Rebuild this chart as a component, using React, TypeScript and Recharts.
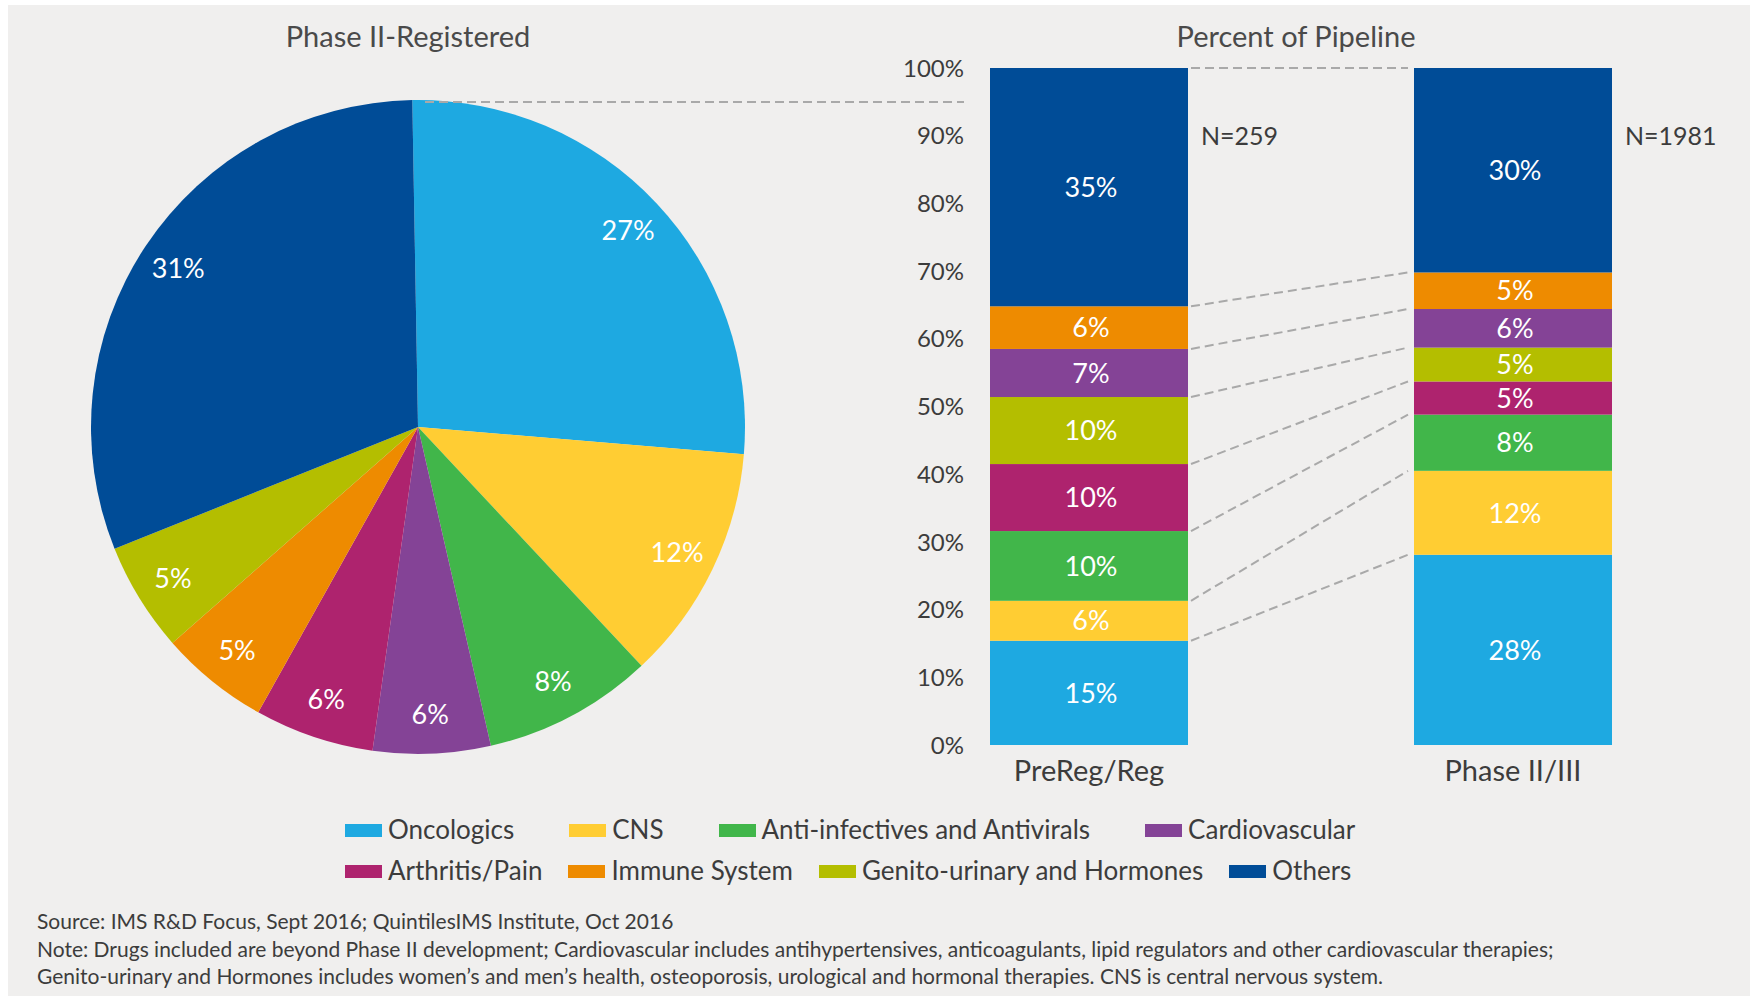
import React from "react";
import { PieChart, Pie, Cell, BarChart, Bar, XAxis, YAxis } from "recharts";

// ---------- data ----------
const pieCategories = [
  "Oncologics",
  "CNS",
  "Anti-infectives and Antivirals",
  "Cardiovascular",
  "Arthritis/Pain",
  "Immune System",
  "Genito-urinary and Hormones",
  "Others",
];
// shares (labels show them rounded)
const pieValues = [26.6, 11.7, 8.4, 5.8, 5.9, 5.4, 5.4, 30.8];

const barCategories = ["PreReg/Reg", "Phase II/III"];
const barNValues = [259, 1981];
// stacked from bottom to top
const stackKeys = ["onc", "cns", "anti", "arth", "genito", "cardio", "immune", "others"];
const oncologicsBar = [15.4, 28.1];
const cnsBar = [5.9, 12.4];
const antiBar = [10.3, 8.3];
const arthritisBar = [9.9, 4.9];
const genitoBar = [9.9, 5.0];
const cardioBar = [7.1, 5.7];
const immuneBar = [6.3, 5.4];
const othersBar = [35.2, 30.2];
const yTicks = [0, 10, 20, 30, 40, 50, 60, 70, 80, 90, 100];

const legendRow1 = ["Oncologics", "CNS", "Anti-infectives and Antivirals", "Cardiovascular"];
const legendRow2 = ["Arthritis/Pain", "Immune System", "Genito-urinary and Hormones", "Others"];

const sourceLines = [
  "Source: IMS R&D Focus, Sept 2016; QuintilesIMS Institute, Oct 2016",
  "Note: Drugs included are beyond Phase II development; Cardiovascular includes antihypertensives, anticoagulants, lipid regulators and other cardiovascular therapies;",
  "Genito-urinary and Hormones includes women\u2019s and men\u2019s health, osteoporosis, urological and  hormonal therapies. CNS is central nervous system.",
];

// ---------- styles ----------
const COLORS: Record<string, string> = {
  Oncologics: "#1EA9E1",
  CNS: "#FFCD33",
  "Anti-infectives and Antivirals": "#41B64A",
  Cardiovascular: "#844396",
  "Arthritis/Pain": "#AE236E",
  "Immune System": "#EE8B00",
  "Genito-urinary and Hormones": "#B4BE00",
  Others: "#004C97",
};
const keyToName: Record<string, string> = {
  onc: "Oncologics",
  cns: "CNS",
  anti: "Anti-infectives and Antivirals",
  arth: "Arthritis/Pain",
  genito: "Genito-urinary and Hormones",
  cardio: "Cardiovascular",
  immune: "Immune System",
  others: "Others",
};
const FONT = "Lato, 'Open Sans', sans-serif";
const TEXT = "#3c3c3c";
const DASH = "#a9a9a9";
const RAD = Math.PI / 180;

const seriesArrays = [oncologicsBar, cnsBar, antiBar, arthritisBar, genitoBar, cardioBar, immuneBar, othersBar];
const barRows = barCategories.map((c, i) => {
  const row: Record<string, any> = { category: c, n: barNValues[i] };
  stackKeys.forEach((k, s) => (row[k] = seriesArrays[s][i]));
  return row;
});
// cumulative tops per series per category
const cumTop = stackKeys.map((_, s) =>
  barCategories.map((__, i) => seriesArrays.slice(0, s + 1).reduce((a, arr) => a + arr[i], 0))
);

const pieData = pieCategories.map((name, i) => ({ name, value: pieValues[i] }));

// bar chart layout
const BC_LEFT = 860;
const BC_W = 893;
const BC_H = 800;
const Y_AXIS_W = 17;
const BC_MARGIN = { top: 68, right: 28, left: 0, bottom: 5 };
const BAND = (BC_W - BC_MARGIN.left - Y_AXIS_W - BC_MARGIN.right) / barCategories.length;
const Y_LABEL_RIGHT = 964;

const makeShape = (key: string, s: number) => (props: any) => {
  const { x, y, width, height, payload, index, fill } = props;
  const v = payload[key];
  const ppu = v ? height / v : 0;
  const isTop = s === stackKeys.length - 1;
  const els: any[] = [];
  els.push(<rect key="r" x={x} y={y} width={width} height={height} fill={fill} />);
  els.push(
    <text
      key="t"
      x={x + width / 2 + 2}
      y={y + height / 2}
      dy="0.36em"
      textAnchor="middle"
      fill="#fff"
      fontSize={27}
      fontFamily={FONT}
    >
      {Math.round(v)}%
    </text>
  );
  if (index === 0) {
    const dy = (cumTop[s][1] - cumTop[s][0]) * ppu;
    els.push(
      <line
        key="c"
        x1={x + width + 3}
        y1={y}
        x2={x + BAND - 6}
        y2={y - dy}
        stroke={DASH}
        strokeWidth={2}
        strokeDasharray="9 5"
      />
    );
  }
  if (isTop) {
    els.push(
      <text
        key="n"
        x={x + width + 13}
        y={y + 10 * ppu}
        dy="0.36em"
        fill={TEXT}
        fontSize={25}
        fontFamily={FONT}
      >
        N={payload.n}
      </text>
    );
  }
  return <g>{els}</g>;
};

const PIE_CX = 418;
const PIE_CY = 427;
const PIE_R = 327;

const renderPieLabel = (props: any) => {
  const { cx, cy, midAngle, outerRadius, value, index } = props;
  const r = outerRadius * 0.88;
  const x = cx + r * Math.cos(-midAngle * RAD);
  const y = cy + r * Math.sin(-midAngle * RAD);
  return (
    <g>
      {index === 0 && (
        <line
          x1={cx + 7}
          y1={cy - outerRadius + 2}
          x2={Y_LABEL_RIGHT}
          y2={cy - outerRadius + 2}
          stroke={DASH}
          strokeWidth={2}
          strokeDasharray="9 5"
        />
      )}
      <text x={x} y={y} dy="0.36em" textAnchor="middle" fill="#fff" fontSize={27} fontFamily={FONT}>
        {Math.round(value)}%
      </text>
    </g>
  );
};

const LegendRow = ({ items, top, gap }: { items: string[]; top: number; gap: number }) => (
  <div
    style={{
      position: "absolute",
      left: 345,
      top,
      display: "flex",
      alignItems: "center",
      gap,
      whiteSpace: "nowrap",
    }}
  >
    {items.map((it) => (
      <div key={it} style={{ display: "flex", alignItems: "center" }}>
        <div style={{ width: 37, height: 13, background: COLORS[it], marginRight: 6, marginTop: 3 }} />
        <span style={{ fontSize: 26, color: TEXT, lineHeight: "30px" }}>{it}</span>
      </div>
    ))}
  </div>
);

export default function App() {
  return (
    <div
      style={{
        position: "absolute",
        left: 0,
        top: 0,
        width: 1753,
        height: 996,
        background: "#ffffff",
        fontFamily: FONT,
        overflow: "hidden",
      }}
    >
      <div style={{ position: "absolute", left: 8, top: 5, width: 1742, height: 991, background: "#F0EFEE" }} />

      <div
        style={{
          position: "absolute",
          left: 408 - 200,
          width: 400,
          top: 21,
          textAlign: "center",
          fontSize: 29,
          lineHeight: "30px",
          color: "#4a4a4a",
        }}
      >
        Phase II-Registered
      </div>
      <div
        style={{
          position: "absolute",
          left: 1296 - 200,
          width: 400,
          top: 21,
          textAlign: "center",
          fontSize: 29,
          lineHeight: "30px",
          color: "#4a4a4a",
        }}
      >
        Percent of Pipeline
      </div>

      <div style={{ position: "absolute", left: 0, top: 0 }}>
        <PieChart width={970} height={800} margin={{ top: 0, right: 0, bottom: 0, left: 0 }}>
          <Pie
            data={pieData}
            dataKey="value"
            nameKey="name"
            cx={PIE_CX}
            cy={PIE_CY}
            outerRadius={PIE_R}
            startAngle={91}
            endAngle={-269}
            stroke="none"
            label={renderPieLabel}
            labelLine={false}
            isAnimationActive={false}
          >
            {pieData.map((d) => (
              <Cell key={d.name} fill={COLORS[d.name]} />
            ))}
          </Pie>
        </PieChart>
      </div>

      <div style={{ position: "absolute", left: BC_LEFT, top: 0 }}>
        <BarChart width={BC_W} height={BC_H} data={barRows} margin={BC_MARGIN} barSize={198}>
          <XAxis
            dataKey="category"
            axisLine={false}
            tickLine={false}
            tickSize={0}
            tickMargin={0}
            height={50}
            interval={0}
            tick={(p: any) => (
              <text
                x={p.x}
                y={p.y + 36}
                textAnchor="middle"
                fill={TEXT}
                fontSize={29}
                fontFamily={FONT}
              >
                {p.payload.value}
              </text>
            )}
          />
          <YAxis
            type="number"
            domain={[0, 100]}
            ticks={yTicks}
            width={Y_AXIS_W}
            axisLine={false}
            tickLine={false}
            tickSize={0}
            tickMargin={0}
            interval={0}
            tick={(p: any) => (
              <text
                x={Y_LABEL_RIGHT - BC_LEFT}
                y={p.y}
                dy="0.36em"
                textAnchor="end"
                fill={TEXT}
                fontSize={24}
                fontFamily={FONT}
              >
                {p.payload.value}%
              </text>
            )}
          />
          {stackKeys.map((k, s) => (
            <Bar
              key={k}
              dataKey={k}
              stackId="a"
              fill={COLORS[keyToName[k]]}
              shape={makeShape(k, s)}
              isAnimationActive={false}
            />
          ))}
        </BarChart>
      </div>

      <LegendRow items={legendRow1} top={814} gap={55} />
      <LegendRow items={legendRow2} top={855} gap={26} />

      <div
        style={{
          position: "absolute",
          left: 37,
          top: 907,
          fontSize: 21,
          lineHeight: "27.5px",
          color: TEXT,
          whiteSpace: "nowrap",
        }}
      >
        {sourceLines.map((l) => (
          <div key={l}>{l}</div>
        ))}
      </div>
    </div>
  );
}
